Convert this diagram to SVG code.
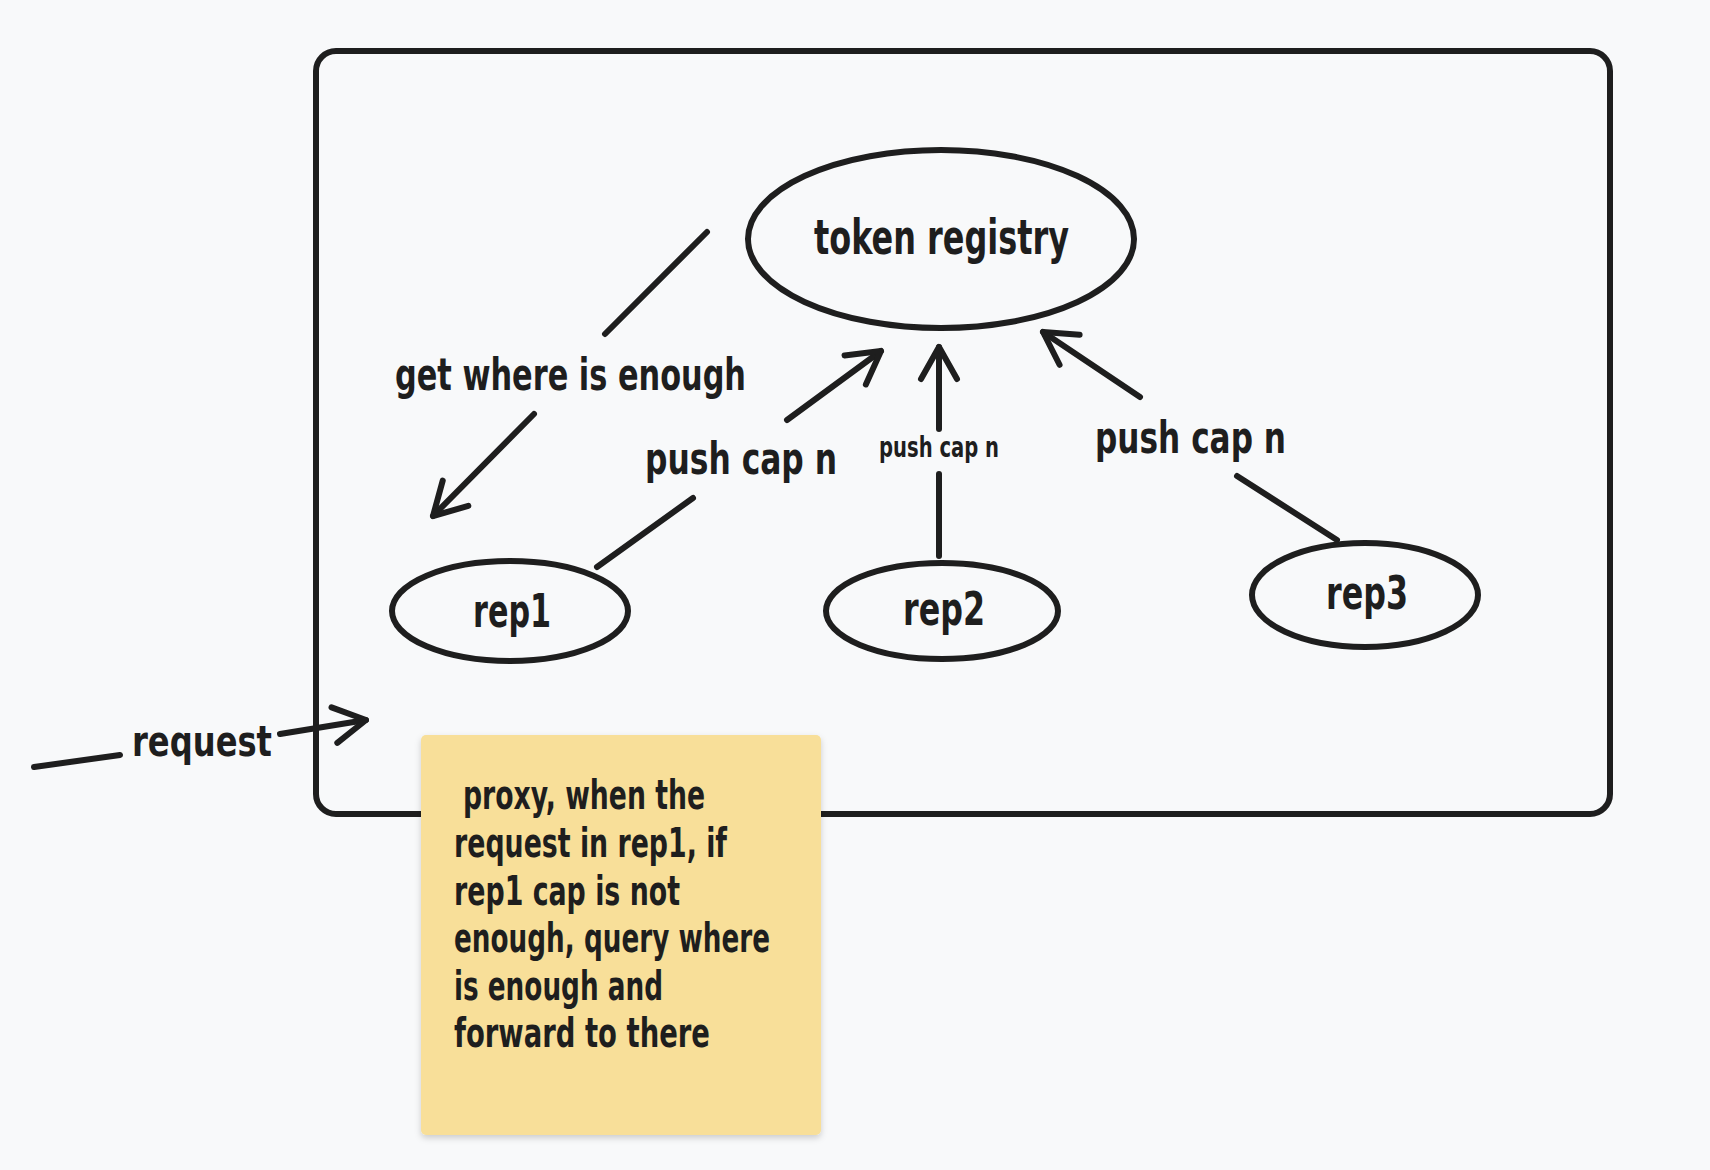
<svg xmlns="http://www.w3.org/2000/svg" width="1710" height="1170" viewBox="0 0 1710 1170">
<defs>
<style>
.bg{fill:#f8f9fa}
.frame{fill:none;stroke:#1e1e1e;stroke-width:6;stroke-linejoin:round}
.node{fill:none;stroke:#1e1e1e;stroke-width:6}
.edge{fill:none;stroke:#1e1e1e;stroke-width:6;stroke-linecap:round}
.lbl{font-family:'DejaVu Sans Condensed','Liberation Sans Narrow','DejaVu Sans',sans-serif;font-weight:bold;fill:#1e1e1e}
.note{fill:#f8df99}
</style>
<marker id="arr" markerUnits="userSpaceOnUse" markerWidth="80" markerHeight="80" refX="0" refY="0" viewBox="-40 -40 80 80" orient="auto" overflow="visible">
<path d="M -32 -18 L 0 0 L -32 18" fill="none" stroke="#1e1e1e" stroke-width="6" stroke-linecap="round" stroke-linejoin="round"/>
</marker>
<filter id="sh" x="-10%" y="-10%" width="120%" height="120%">
<feDropShadow dx="0" dy="3" stdDeviation="3" flood-color="#000" flood-opacity="0.18"/>
</filter>
</defs>
<rect class="bg" x="0" y="0" width="1710" height="1170"/>
<g id="frame">
<rect class="frame" x="316" y="51" width="1294" height="763" rx="20"/>
</g>
<g id="connectors">
<path class="edge" d="M707 232 L605 334"/>
<path class="edge" d="M534 414 L433 516" marker-end="url(#arr)"/>
<path class="edge" d="M597 567 L693 498"/>
<path class="edge" d="M787 420 L881 351" marker-end="url(#arr)"/>
<path class="edge" d="M939 556 L939 474"/>
<path class="edge" d="M939 429 L939 347" marker-end="url(#arr)"/>
<path class="edge" d="M1337 540 L1237 476"/>
<path class="edge" d="M1140 397 L1043 332" marker-end="url(#arr)"/>
<path class="edge" d="M34 767 L120 755"/>
<path class="edge" d="M280 734 L366 720" marker-end="url(#arr)"/>
<text class="lbl" x="395" y="390" font-size="44" textLength="351" lengthAdjust="spacingAndGlyphs">get where is enough</text>
<text class="lbl" x="645" y="474" font-size="44" textLength="192" lengthAdjust="spacingAndGlyphs">push cap n</text>
<text class="lbl" x="879" y="457" font-size="28" textLength="120" lengthAdjust="spacingAndGlyphs">push cap n</text>
<text class="lbl" x="1095" y="453" font-size="44" textLength="191" lengthAdjust="spacingAndGlyphs">push cap n</text>
<text class="lbl" x="132" y="756" font-size="42" textLength="140" lengthAdjust="spacingAndGlyphs">request</text>
</g>
<g id="token-registry">
<ellipse class="node" cx="941" cy="239" rx="193" ry="89"/>
<text class="lbl" x="814" y="254" font-size="48" textLength="255" lengthAdjust="spacingAndGlyphs">token registry</text>
</g>
<g id="rep1">
<ellipse class="node" cx="510" cy="611" rx="118" ry="50"/>
<text class="lbl" x="473" y="627" font-size="46" textLength="78" lengthAdjust="spacingAndGlyphs">rep1</text>
</g>
<g id="rep2">
<ellipse class="node" cx="942" cy="611" rx="116" ry="48"/>
<text class="lbl" x="903" y="625" font-size="46" textLength="82" lengthAdjust="spacingAndGlyphs">rep2</text>
</g>
<g id="rep3">
<ellipse class="node" cx="1365" cy="595" rx="113" ry="52"/>
<text class="lbl" x="1326" y="609" font-size="46" textLength="82" lengthAdjust="spacingAndGlyphs">rep3</text>
</g>
<g id="note">
<rect class="note" x="421" y="735" width="400" height="400" rx="5" filter="url(#sh)"/>
<text class="lbl" font-size="40">
<tspan x="463" y="809" textLength="242" lengthAdjust="spacingAndGlyphs">proxy, when the</tspan>
<tspan x="454" y="857" textLength="273" lengthAdjust="spacingAndGlyphs">request in rep1, if</tspan>
<tspan x="454" y="905" textLength="226" lengthAdjust="spacingAndGlyphs">rep1 cap is not</tspan>
<tspan x="454" y="952" textLength="316" lengthAdjust="spacingAndGlyphs">enough, query where</tspan>
<tspan x="454" y="1000" textLength="209" lengthAdjust="spacingAndGlyphs">is enough and</tspan>
<tspan x="454" y="1047" textLength="256" lengthAdjust="spacingAndGlyphs">forward to there</tspan>
</text>
</g>
</svg>
